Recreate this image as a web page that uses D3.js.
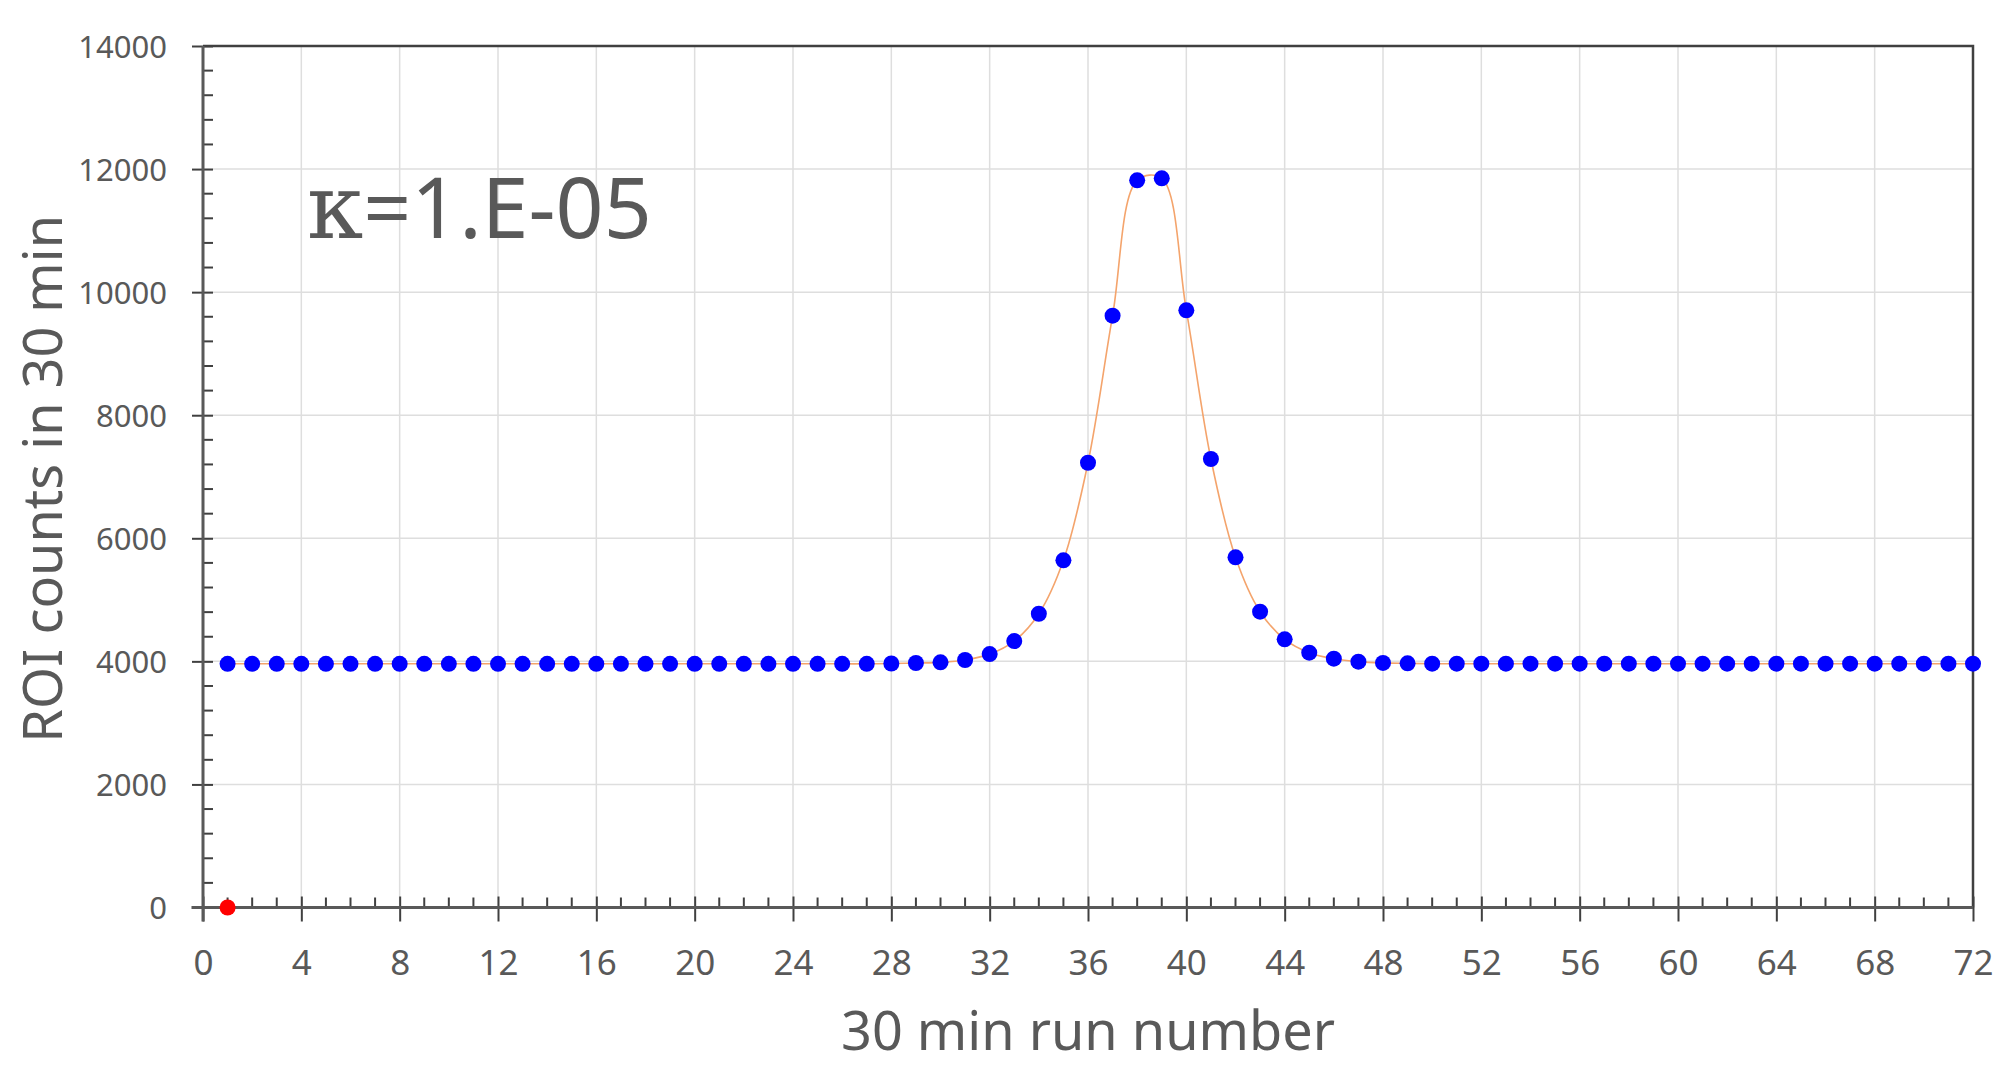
<!DOCTYPE html>
<head>
    <meta charset="utf-8">
    <title>ROI counts per 30 min run</title>
    <style>
        body { margin: 0; background: #fff; }
        text { font-family: 'Noto Sans', sans-serif; fill: #595959; }
    </style>
</head>
<body>

<svg width="2010" height="1066"></svg>

<script src="https://d3js.org/d3.v7.min.js"></script>

<script>

// ROI counts for each 30 min run (run 1 .. 72)
var counts = [
    3960, 3960, 3960, 3960, 3960, 3960, 3960, 3960, 3960, 3960,
    3960, 3960, 3960, 3960, 3960, 3960, 3960, 3960, 3960, 3960,
    3960, 3960, 3960, 3960, 3960, 3960, 3960, 3965, 3973, 3984,
    4022, 4119, 4330, 4774, 5642, 7228, 9617, 11817, 11849, 9704,
    7288, 5691, 4807, 4358, 4141, 4043, 3995, 3975, 3968, 3962,
    3962, 3962, 3962, 3962, 3962, 3962, 3962, 3962, 3962, 3962,
    3962, 3962, 3962, 3962, 3962, 3962, 3962, 3962, 3962, 3962,
    3962, 3962
];
var runs = counts.map((d, i) => i + 1);

// the single red point
var redRuns = [1];
var redCounts = [0];

var xTicks = [0, 4, 8, 12, 16, 20, 24, 28, 32, 36, 40, 44, 48, 52, 56, 60, 64, 68, 72];
var yTicks = [0, 2000, 4000, 6000, 8000, 10000, 12000, 14000];

var xTitle = '30 min run number';
var yTitle = 'ROI counts in 30 min';
var noteSymbol = 'κ';
var noteValue = '=1.E-05';

var svg = d3.select('svg'),
    margin = {top: 46, right: 37, bottom: 158.5, left: 203},
    width = +svg.attr('width') - margin.left - margin.right,
    height = +svg.attr('height') - margin.top - margin.bottom,
    g = svg.append('g')
        .attr('transform', `translate(${margin.left},${margin.top})`);

var x = d3.scaleLinear().domain([0, 72]).range([0, width]);
var y = d3.scaleLinear().domain([0, 14000]).range([height, 0]);

// gridlines
g.append('g').selectAll('line')
    .data(xTicks.slice(1, -1))
    .enter().append('line')
        .attr('x1', d => x(d)).attr('x2', d => x(d))
        .attr('y1', 0).attr('y2', height)
        .attr('stroke', '#dedede').attr('stroke-width', 1.5);

g.append('g').selectAll('line')
    .data(yTicks.slice(1, -1))
    .enter().append('line')
        .attr('x1', 0).attr('x2', width)
        .attr('y1', d => y(d)).attr('y2', d => y(d))
        .attr('stroke', '#dedede').attr('stroke-width', 1.5);

// top and right frame
g.append('path')
    .attr('d', `M0,0H${width}V${height}`)
    .attr('fill', 'none')
    .attr('stroke', '#404040')
    .attr('stroke-width', 2.5);

// minor ticks (inside)
g.append('g').selectAll('line')
    .data(d3.range(0, 73).filter(d => d % 4 != 0))
    .enter().append('line')
        .attr('x1', d => x(d)).attr('x2', d => x(d))
        .attr('y1', height - 10).attr('y2', height)
        .attr('stroke', '#404040').attr('stroke-width', 2);

g.append('g').selectAll('line')
    .data(d3.range(0, 14001, 400).filter(d => d % 2000 != 0))
    .enter().append('line')
        .attr('x1', 0).attr('x2', 10)
        .attr('y1', d => y(d)).attr('y2', d => y(d))
        .attr('stroke', '#404040').attr('stroke-width', 2);

// x axis, major ticks cross the line
var xAxis = g.append('g')
    .attr('transform', `translate(0,${height})`)
    .call(d3.axisBottom(x).tickValues(xTicks).tickSize(14).tickSizeOuter(0));
xAxis.select('.domain').remove();
xAxis.selectAll('.tick line')
    .attr('y1', -11)
    .attr('stroke', '#404040')
    .attr('stroke-width', 2);
xAxis.selectAll('.tick text')
    .attr('y', 67.5).attr('dy', 0)
    .attr('font-size', 35)
    .attr('font-family', null)
    .style('fill', '#595959');

var yAxis = g.append('g')
    .call(d3.axisLeft(y).tickValues(yTicks).tickFormat(d3.format('d'))
        .tickSize(11).tickSizeOuter(0));
yAxis.select('.domain').remove();
yAxis.selectAll('.tick line')
    .attr('x2', 10)
    .attr('x1', -11)
    .attr('stroke', '#404040')
    .attr('stroke-width', 2);
yAxis.selectAll('.tick text')
    .attr('x', -36).attr('dy', '0.36em')
    .attr('font-size', 31)
    .attr('font-family', null)
    .style('fill', '#595959');

// axis lines
g.append('line')
    .attr('x1', -11.5).attr('x2', width)
    .attr('y1', height).attr('y2', height)
    .attr('stroke', '#595959').attr('stroke-width', 3);
g.append('line')
    .attr('x1', 0).attr('x2', 0)
    .attr('y1', 0).attr('y2', height + 14)
    .attr('stroke', '#595959').attr('stroke-width', 3);

// smoothed line through the blue points
var points = runs.map((r, i) => ({run: r, count: counts[i]}));

var line = d3.line()
    .x(d => x(d.run))
    .y(d => y(d.count))
    .curve(d3.curveCatmullRom.alpha(0.5));

g.append('path')
    .datum(points)
    .attr('d', line)
    .attr('fill', 'none')
    .attr('stroke', '#f4a46c')
    .attr('stroke-width', 1.6);

g.append('g').selectAll('circle')
    .data(points)
    .enter().append('circle')
        .attr('cx', d => x(d.run))
        .attr('cy', d => y(d.count))
        .attr('r', 8)
        .attr('fill', '#0000ff');

g.append('g').selectAll('circle')
    .data(redRuns)
    .enter().append('circle')
        .attr('cx', d => x(d))
        .attr('cy', (d, i) => y(redCounts[i]))
        .attr('r', 8)
        .attr('fill', '#ff0000');

// annotation
var note = svg.append('text')
    .attr('x', 307)
    .attr('y', 238)
    .attr('font-size', 84);
note.append('tspan')
    .style('font-family', "'DejaVu Serif', serif")
    .attr('font-size', 90)
    .text(noteSymbol);
note.append('tspan')
    .text(noteValue);

// axis titles
svg.append('text')
    .attr('x', margin.left + width / 2)
    .attr('y', 1050)
    .attr('text-anchor', 'middle')
    .attr('font-size', 54)
    .text(xTitle);

svg.append('text')
    .attr('transform', `translate(62,${margin.top + height / 2 + 2}) rotate(-90)`)
    .attr('text-anchor', 'middle')
    .attr('font-size', 54)
    .text(yTitle);

</script>

</body>
